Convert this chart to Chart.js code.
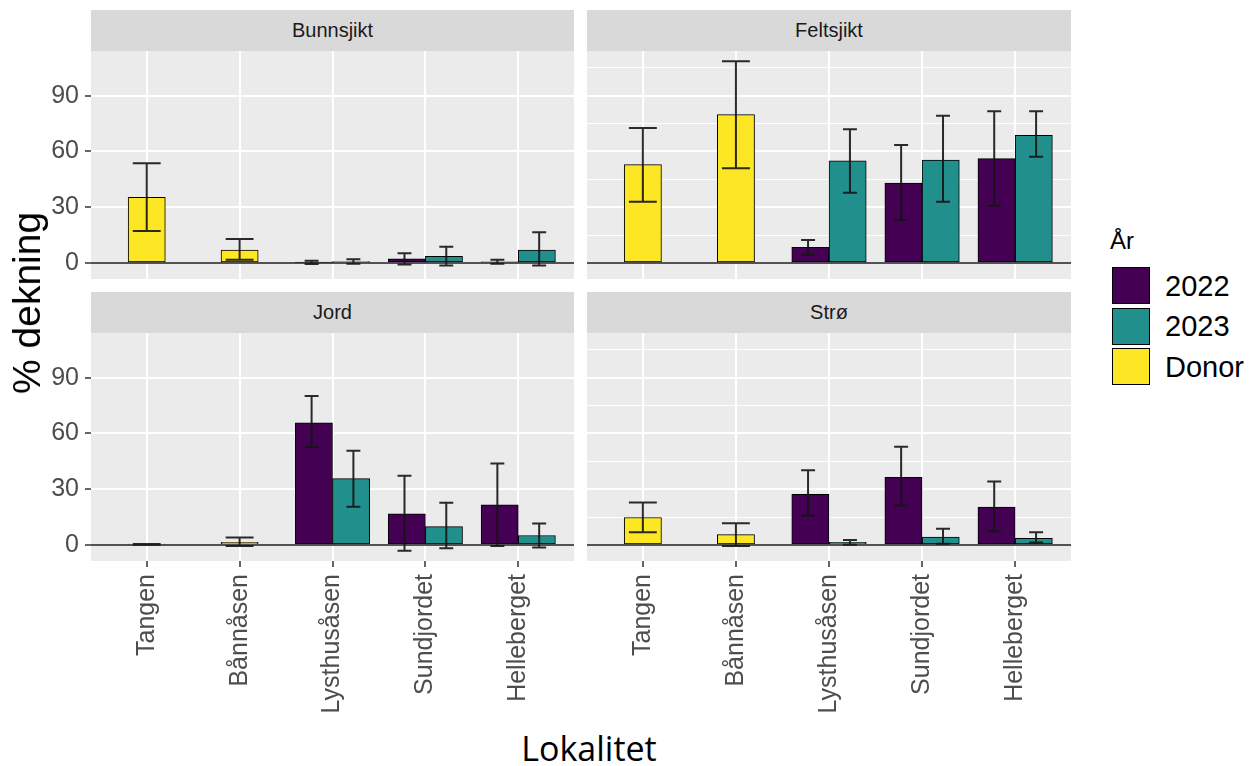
<!DOCTYPE html>
<html>
<head>
<meta charset="utf-8">
<script src="https://cdn.jsdelivr.net/npm/chart.js@4.4.1/dist/chart.umd.min.js"></script>
<style>
  html, body { margin: 0; padding: 0; background: #ffffff; }
  #fig { position: relative; width: 1255px; height: 766px; overflow: hidden;
         font-family: "Liberation Sans", Arial, sans-serif; background: #ffffff; }
  #fig canvas { position: absolute; }
  .strip { position: absolute; background: #D9D9D9; color: #1A1A1A; font-size: 20px;
           display: flex; align-items: center; justify-content: center; }
  .title { position: absolute; white-space: nowrap; color: #000000; }
  .key { position: absolute; box-sizing: border-box; border: 1px solid #000000; }
  .keylab { position: absolute; font-size: 29px; color: #000000; line-height: 1; }
</style>
</head>
<body>
<div id="fig"></div>
<script>
// ---- categories and series ----
const locations = ['Tangen', 'Bånnåsen', 'Lysthusåsen', 'Sundjordet', 'Helleberget'];
const layers = ['Bunnsjikt', 'Feltsjikt', 'Jord', 'Strø'];
const years = ['2022', '2023', 'Donor'];
const yearColours = ['#440154', '#21908C', '#FDE725'];
const majorBreaks = [0, 30, 60, 90];
const minorBreaks = [15, 45, 75, 105];

// Bunnsjikt: mean cover with lower / upper error limits
const bunnsjikt2022      = [null, null, 0.3, 2.2, 0.6];
const bunnsjikt2022Low   = [null, null, -0.5, -0.8, -0.4];
const bunnsjikt2022High  = [null, null, 1.2, 5.2, 1.8];
const bunnsjikt2023      = [null, null, 0.8, 3.6, 7.0];
const bunnsjikt2023Low   = [null, null, -0.4, -1.4, -1.4];
const bunnsjikt2023High  = [null, null, 2.0, 8.8, 16.5];
const bunnsjiktDonor     = [35.3, 7.0, null, null, null];
const bunnsjiktDonorLow  = [17.2, 1.8, null, null, null];
const bunnsjiktDonorHigh = [53.6, 12.9, null, null, null];

// Feltsjikt
const feltsjikt2022      = [null, null, 8.4, 43.0, 56.1];
const feltsjikt2022Low   = [null, null, 4.5, 23.1, 30.8];
const feltsjikt2022High  = [null, null, 12.4, 63.5, 81.6];
const feltsjikt2023      = [null, null, 54.9, 55.4, 68.7];
const feltsjikt2023Low   = [null, null, 37.8, 33.0, 57.2];
const feltsjikt2023High  = [null, null, 71.9, 79.2, 81.6];
const feltsjiktDonor     = [52.9, 79.8, null, null, null];
const feltsjiktDonorLow  = [33.0, 50.9, null, null, null];
const feltsjiktDonorHigh = [72.6, 108.5, null, null, null];

// Jord
const jord2022      = [null, null, 65.7, 16.8, 21.6];
const jord2022Low   = [null, null, 52.7, -3.1, -0.5];
const jord2022High  = [null, null, 80.1, 37.3, 43.8];
const jord2023      = [null, null, 35.7, 9.9, 5.1];
const jord2023Low   = [null, null, 20.6, -1.8, -1.3];
const jord2023High  = [null, null, 50.7, 22.7, 11.5];
const jordDonor     = [0.4, 1.4, null, null, null];
const jordDonorLow  = [0.2, -0.5, null, null, null];
const jordDonorHigh = [0.6, 4.1, null, null, null];

// Strø
const stro2022      = [null, null, 27.2, 36.4, 20.4];
const stro2022Low   = [null, null, 15.7, 21.3, 7.4];
const stro2022High  = [null, null, 40.2, 52.8, 34.1];
const stro2023      = [null, null, 1.4, 4.3, 3.6];
const stro2023Low   = [null, null, 0.2, 0.7, 1.3];
const stro2023High  = [null, null, 2.7, 8.8, 6.8];
const stroDonor     = [14.8, 5.6, null, null, null];
const stroDonorLow  = [6.8, -0.5, null, null, null];
const stroDonorHigh = [22.9, 11.7, null, null, null];

// per facet: [mean, low, high] for 2022, 2023, Donor
const facetSeries = [
  [[bunnsjikt2022, bunnsjikt2022Low, bunnsjikt2022High],
   [bunnsjikt2023, bunnsjikt2023Low, bunnsjikt2023High],
   [bunnsjiktDonor, bunnsjiktDonorLow, bunnsjiktDonorHigh]],
  [[feltsjikt2022, feltsjikt2022Low, feltsjikt2022High],
   [feltsjikt2023, feltsjikt2023Low, feltsjikt2023High],
   [feltsjiktDonor, feltsjiktDonorLow, feltsjiktDonorHigh]],
  [[jord2022, jord2022Low, jord2022High],
   [jord2023, jord2023Low, jord2023High],
   [jordDonor, jordDonorLow, jordDonorHigh]],
  [[stro2022, stro2022Low, stro2022High],
   [stro2023, stro2023Low, stro2023High],
   [stroDonor, stroDonorLow, stroDonorHigh]]
];

// ---- layout ----
const PANEL_LEFT = [91, 587];
const PANEL_WIDTH = [483, 484];
const STRIP_TOP = [10, 292];
const STRIP_H = 41;
const PANEL_H = 228;
const Y_AXIS_W = 91;
const X_AXIS_H = 160;
const Y_MIN = -8.6, Y_MAX = 114;
const X_MIN = -0.6, X_MAX = 4.6;

// dodge geometry in category units (bars 0.4 wide, error bars dodged by 0.9)
const barOffset = [-0.2, 0.2, 0];
const errOffset = [-0.225, 0.225, 0];
const capHalf = [0.075, 0.075, 0.15];

Chart.defaults.font.family = '"Liberation Sans", Arial, sans-serif';

const panelDecor = {
  id: 'panelDecor',
  beforeDraw(chart) {
    const { ctx, chartArea: a } = chart;
    ctx.save();
    ctx.fillStyle = '#EBEBEB';
    ctx.fillRect(a.left, a.top, a.right - a.left, a.bottom - a.top);
    ctx.restore();
  },
  afterDatasetsDraw(chart) {
    const { ctx, chartArea: a, scales: { x, y } } = chart;
    ctx.save();
    ctx.beginPath();
    ctx.rect(a.left, a.top, a.right - a.left, a.bottom - a.top);
    ctx.clip();
    // error bars
    ctx.strokeStyle = 'rgba(20,20,20,0.9)';
    ctx.lineWidth = 2;
    chart.data.datasets.forEach((ds) => {
      const k = ds.seriesIndex;
      ds.errLow.forEach((lo, i) => {
        const hi = ds.errHigh[i];
        if (lo == null || hi == null) return;
        const cx = x.getPixelForValue(i + errOffset[k]);
        const x0 = x.getPixelForValue(i + errOffset[k] - capHalf[k]);
        const x1 = x.getPixelForValue(i + errOffset[k] + capHalf[k]);
        const yl = y.getPixelForValue(lo);
        const yh = y.getPixelForValue(hi);
        ctx.beginPath();
        ctx.moveTo(cx, yl); ctx.lineTo(cx, yh);
        ctx.moveTo(x0, yl); ctx.lineTo(x1, yl);
        ctx.moveTo(x0, yh); ctx.lineTo(x1, yh);
        ctx.stroke();
      });
    });
    // reference line at zero
    const y0 = y.getPixelForValue(0);
    ctx.strokeStyle = '#1A1A1A';
    ctx.lineWidth = 1.4;
    ctx.beginPath();
    ctx.moveTo(a.left, y0); ctx.lineTo(a.right, y0);
    ctx.stroke();
    ctx.restore();
  }
};

const fig = document.getElementById('fig');

layers.forEach((name, p) => {
  const col = p % 2, row = Math.floor(p / 2);
  const left = PANEL_LEFT[col], width = PANEL_WIDTH[col];
  const unitPx = width / (X_MAX - X_MIN);

  const strip = document.createElement('div');
  strip.className = 'strip';
  strip.style.left = left + 'px';
  strip.style.top = STRIP_TOP[row] + 'px';
  strip.style.width = width + 'px';
  strip.style.height = STRIP_H + 'px';
  strip.textContent = name;
  fig.appendChild(strip);

  const cv = document.createElement('canvas');
  const cvLeft = col === 0 ? 0 : left;
  const cvW = col === 0 ? left + width : width;
  const cvH = PANEL_H + (row === 1 ? X_AXIS_H : 0);
  cv.width = cvW; cv.height = cvH;
  cv.style.left = cvLeft + 'px';
  cv.style.top = (STRIP_TOP[row] + STRIP_H) + 'px';
  cv.style.width = cvW + 'px'; cv.style.height = cvH + 'px';
  fig.appendChild(cv);

  const datasets = years.map((yr, k) => {
    const [mean, low, high] = facetSeries[p][k];
    const pts = [];
    mean.forEach((v, i) => { if (v != null) pts.push({ x: i + barOffset[k], y: v }); });
    return {
      label: yr,
      seriesIndex: k,
      data: pts,
      errLow: low,
      errHigh: high,
      backgroundColor: yearColours[k],
      borderColor: '#000000',
      borderWidth: 1,
      borderSkipped: false,
      grouped: false,
      barThickness: 0.4 * unitPx,
      barPercentage: 1,
      categoryPercentage: 1
    };
  });

  const allBreaks = majorBreaks.concat(minorBreaks).sort((a, b) => a - b);

  new Chart(cv, {
    type: 'bar',
    data: { datasets },
    options: {
      responsive: false,
      animation: false,
      devicePixelRatio: 1,
      layout: { padding: 0 },
      events: [],
      plugins: { legend: { display: false }, tooltip: { enabled: false }, title: { display: false } },
      scales: {
        x: {
          type: 'linear',
          offset: false,
          min: X_MIN, max: X_MAX,
          afterBuildTicks: (s) => { s.ticks = locations.map((_, i) => ({ value: i })); },
          grid: { offset: false, color: '#FFFFFF', lineWidth: 2, drawTicks: row === 1, tickLength: 6,
                  tickColor: '#333333', tickWidth: 1.5 },
          border: { display: false },
          ticks: {
            display: row === 1, autoSkip: false, minRotation: 90, maxRotation: 90,
            padding: 7, color: '#4D4D4D', font: { size: 25 },
            callback: (v) => locations[v] ?? ''
          },
          afterFit: (s) => {
            s.height = row === 1 ? X_AXIS_H : 0;
            s.paddingLeft = 0; s.paddingRight = 0;
          }
        },
        y: {
          type: 'linear',
          min: Y_MIN, max: Y_MAX,
          afterBuildTicks: (s) => { s.ticks = allBreaks.map((v) => ({ value: v })); },
          grid: {
            color: '#FFFFFF',
            lineWidth: (c) => (c.tick && majorBreaks.includes(c.tick.value) ? 2 : 1),
            drawTicks: col === 0, tickLength: 6, tickWidth: 1.5,
            tickColor: (c) => (c.tick && majorBreaks.includes(c.tick.value) ? '#333333' : 'rgba(0,0,0,0)')
          },
          border: { display: false },
          ticks: {
            display: col === 0, padding: 6, color: '#4D4D4D', font: { size: 25 },
            callback: (v) => (majorBreaks.includes(v) ? String(v) : '')
          },
          afterFit: (s) => {
            s.width = col === 0 ? Y_AXIS_W : 0;
            s.paddingTop = 0; s.paddingBottom = 0;
          }
        }
      }
    },
    plugins: [panelDecor]
  });
});

// axis titles
const yTitle = document.createElement('div');
yTitle.className = 'title';
yTitle.textContent = '% dekning';
Object.assign(yTitle.style, { left: '27px', top: '303px', fontSize: '39px',
  transform: 'translate(-50%, -50%) rotate(-90deg)' });
fig.appendChild(yTitle);

const xTitle = document.createElement('div');
xTitle.className = 'title';
xTitle.textContent = 'Lokalitet';
Object.assign(xTitle.style, { left: '589px', top: '748px', fontSize: '34px',
  fontFamily: '"Open Sans", "Liberation Sans", sans-serif',
  transform: 'translate(-50%, -50%)' });
fig.appendChild(xTitle);

// legend
const legTitle = document.createElement('div');
legTitle.className = 'title';
legTitle.textContent = 'År';
Object.assign(legTitle.style, { left: '1110px', top: '241px', fontSize: '24px',
  transform: 'translateY(-50%)' });
fig.appendChild(legTitle);

years.forEach((yr, k) => {
  const top = 267 + k * 40.6;
  const key = document.createElement('div');
  key.className = 'key';
  Object.assign(key.style, { left: '1112px', top: top + 'px', width: '38px', height: '37px',
    background: yearColours[k] });
  fig.appendChild(key);
  const lab = document.createElement('div');
  lab.className = 'keylab';
  lab.textContent = yr;
  Object.assign(lab.style, { left: '1165px', top: (top + 18.5) + 'px', transform: 'translateY(-50%)' });
  fig.appendChild(lab);
});
</script>
</body>
</html>
